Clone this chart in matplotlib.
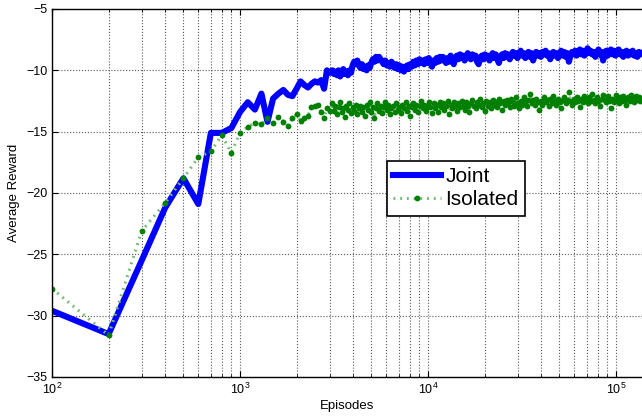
import numpy as np
import matplotlib
matplotlib.use('Agg')
import matplotlib.pyplot as plt

plt.rcParams['font.family'] = ['Liberation Sans', 'DejaVu Sans']
plt.rcParams['mathtext.default'] = 'regular'

# early episodes, one sample every 100 episodes
episodes_early = np.arange(100, 3001, 100)
joint_early = [-29.6, -31.5, -25.5, -21.2, -18.8, -20.9, -15.1, -15.1, -14.7, -13.4,
               -12.6, -13.2, -11.9, -14.2, -12.3, -11.9, -11.6, -12.0, -12.1, -11.5,
               -10.9, -11.2, -11.4, -11.1, -10.9, -11.0, -10.8, -11.5, -10.0, -10.2]
isolated_early = [-27.8, -31.6, -23.1, -20.8, -18.8, -17.1, -16.6, -15.3, -16.7, -15.1,
                  -14.6, -14.3, -14.4, -13.9, -14.3, -13.8, -14.2, -14.5, -13.9, -13.6,
                  -14.1, -13.9, -13.7, -13.0, -12.9, -12.8, -13.4, -13.9, -13.1, -13.3]

# later episodes, sampled evenly on the log axis
episodes_late = np.geomspace(3100, 137500, 200)
joint_late = [
    -10.0, -10.3, -10.1, -10.4, -10.0, -10.5, -10.2, -9.9, -10.3, -10.1,
    -10.4, -10.0, -10.2, -9.6, -9.3, -9.5, -9.2, -9.6, -9.8, -9.5,
    -9.9, -9.7, -10.0, -9.6, -9.8, -9.4, -9.1, -9.3, -8.9, -9.2,
    -8.9, -9.1, -9.3, -9.5, -9.2, -9.6, -9.4, -9.7, -9.3, -9.6,
    -9.8, -9.5, -9.9, -9.6, -10.0, -9.7, -10.1, -9.8, -9.6, -9.9,
    -9.5, -9.7, -9.3, -9.6, -9.2, -9.5, -9.1, -9.4, -9.2, -9.5,
    -9.1, -9.4, -9.0, -9.3, -9.7, -9.2, -9.4, -9.0, -9.3, -8.9,
    -9.2, -8.9, -9.1, -9.4, -9.0, -9.3, -8.8, -9.1, -9.5, -9.0,
    -8.8, -9.1, -8.7, -9.0, -8.8, -9.2, -8.9, -8.6, -8.9, -9.1,
    -8.7, -9.0, -8.8, -9.3, -9.5, -9.0, -8.8, -9.1, -8.7, -9.0,
    -8.8, -9.2, -8.9, -8.6, -9.0, -8.7, -9.1, -9.4, -8.9, -8.7,
    -9.0, -8.6, -8.9, -8.7, -9.1, -8.8, -8.5, -8.8, -8.6, -9.0,
    -8.7, -8.4, -8.8, -8.6, -9.0, -8.7, -8.5, -8.9, -8.6, -9.2,
    -8.8, -8.5, -8.8, -8.6, -8.9, -8.5, -8.7, -8.4, -8.8, -8.6,
    -9.1, -8.7, -8.5, -8.8, -8.6, -9.0, -8.7, -8.4, -8.8, -8.5,
    -8.9, -8.6, -9.3, -8.8, -8.5, -8.7, -8.4, -8.8, -8.6, -8.3,
    -8.7, -8.4, -8.8, -8.5, -8.2, -8.6, -8.4, -8.7, -8.5, -8.9,
    -8.6, -8.3, -8.7, -8.5, -9.2, -8.7, -8.4, -8.8, -8.5, -8.3,
    -8.7, -8.4, -8.8, -8.6, -8.3, -8.7, -8.5, -8.9, -8.6, -8.4,
    -8.8, -8.5, -8.7, -8.4, -8.8, -8.6, -8.9, -8.5, -8.7, -8.6]
isolated_late = [
    -12.7, -13.3, -12.9, -13.6, -13.0, -12.6, -13.4, -13.1, -13.8, -12.9,
    -13.2, -12.7, -13.5, -13.0, -13.3, -12.8, -13.6, -13.1, -12.9, -13.4,
    -13.0, -13.7, -12.8, -13.2, -12.6, -13.4, -13.0, -13.9, -13.1, -12.7,
    -13.3, -12.9, -13.5, -13.0, -12.6, -13.2, -12.8, -13.6, -13.1, -12.9,
    -13.4, -12.7, -13.2, -13.0, -13.5, -12.8, -13.1, -12.6, -13.3, -12.9,
    -13.7, -13.0, -12.7, -13.2, -12.8, -13.4, -12.9, -12.5, -13.1, -12.8,
    -13.3, -12.9, -12.6, -13.0, -13.5, -12.7, -13.1, -12.8, -13.4, -12.6,
    -13.0, -12.7, -13.2, -12.9, -12.5, -13.6, -12.8, -13.1, -12.6, -12.9,
    -13.3, -12.7, -13.0, -12.5, -12.9, -13.2, -12.6, -12.9, -13.4, -12.7,
    -12.4, -12.9, -13.1, -12.6, -12.8, -12.3, -13.0, -12.7, -13.3, -12.5,
    -12.9, -12.6, -13.1, -12.4, -12.8, -12.6, -13.0, -12.3, -12.7, -13.2,
    -12.5, -12.8, -12.4, -12.7, -13.0, -12.3, -12.6, -12.9, -12.2, -12.7,
    -13.1, -12.5, -12.8, -12.2, -12.6, -12.9, -12.4, -11.9, -12.7, -12.4,
    -12.8, -12.3, -12.6, -13.2, -12.5, -12.8, -12.2, -12.6, -12.4, -12.9,
    -12.3, -12.7, -12.1, -12.5, -12.8, -12.3, -12.6, -13.1, -12.4, -12.2,
    -12.7, -12.4, -11.8, -12.5, -12.8, -12.3, -12.6, -12.2, -12.5, -13.0,
    -12.3, -12.6, -12.1, -12.4, -12.7, -12.2, -12.5, -11.9, -12.4, -12.7,
    -12.2, -12.5, -12.9, -12.3, -12.0, -12.4, -12.6, -12.1, -12.5, -13.1,
    -12.3, -12.6, -12.0, -12.4, -12.7, -12.2, -12.5, -12.1, -12.4, -12.8,
    -12.2, -12.5, -12.0, -12.3, -12.6, -12.1, -12.4, -12.2, -12.5, -12.3]

episodes = np.concatenate([episodes_early, episodes_late])
joint = np.concatenate([joint_early, joint_late])
isolated = np.concatenate([isolated_early, isolated_late])

fig = plt.figure(figsize=(6.42, 4.18), dpi=100)
ax = fig.add_axes([52 / 642, 41 / 418, 590 / 642, 368 / 418])

ax.plot(episodes, joint, color='#0000ff', lw=4.4, label='Joint', solid_joinstyle='round')
ax.plot(episodes, isolated, color='#73bb73', lw=2.2, linestyle=(0, (0.6, 1.6)),
        marker='o', ms=4.2, mfc='#008000', mec='#008000', mew=0, label='Isolated')

ax.set_xscale('log')
ax.set_xlim(100, 137500)
ax.set_ylim(-35, -5)
ax.set_yticks(np.arange(-35, -4, 5))

ax.grid(True, which='major', linestyle=':', color='0.35', lw=0.8)
ax.grid(True, which='minor', axis='x', linestyle=':', color='0.35', lw=0.8)
ax.tick_params(which='both', direction='in', top=True, labelsize=9)
ax.tick_params(which='major', length=4)
ax.tick_params(which='minor', length=2)
ax.spines['right'].set_visible(False)
for s in ['left', 'bottom', 'top']:
    ax.spines[s].set_linewidth(1.0)

ax.set_xlabel('Episodes', fontsize=9.5, labelpad=2)
ax.set_ylabel('Average Reward', fontsize=9.5, labelpad=4)

leg = ax.legend(loc='upper left', bbox_to_anchor=(0.568, 0.587), borderaxespad=0,
                fontsize=15, numpoints=1, handlelength=2.3, handletextpad=0.2,
                borderpad=0.3, labelspacing=0.2, fancybox=False, framealpha=1)
leg.get_frame().set_edgecolor('black')
leg.get_frame().set_linewidth(1.2)

fig.savefig('out.png', dpi=100)
